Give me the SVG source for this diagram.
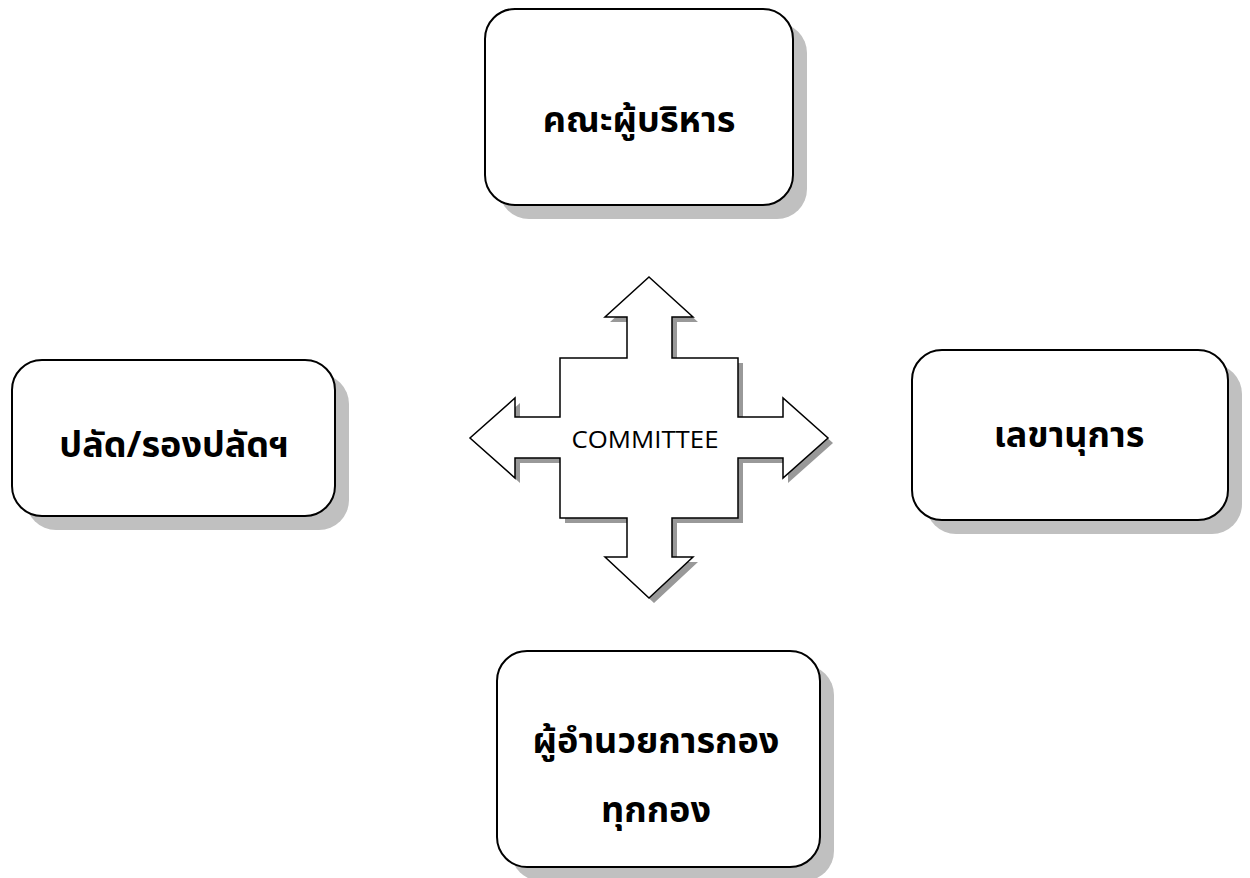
<svg xmlns="http://www.w3.org/2000/svg" width="1250" height="878" viewBox="0 0 1250 878">
<style>
.box{fill:#fff;stroke:#000;stroke-width:2}
.shadow{fill:#c0c0c0}
.lbl{font-family:"Noto Sans Thai","Leelawadee UI",Tahoma,"DejaVu Sans","Noto Sans",sans-serif;font-size:36px;font-weight:bold;fill:#000;text-anchor:middle}
.arr{fill:#fff;stroke:#000;stroke-width:1.5;stroke-linejoin:miter}
.arrsh{fill:#999}
.cm{font-family:"Open Sans","Liberation Sans",sans-serif;font-size:23px;fill:#000;text-anchor:middle}
</style>
<defs>
<path id="cross" d="M649,277 L693,317 L672,317 L672,358 L738,358 L738,417 L783,417 L783,398 L828,438 L783,478 L783,458 L738,458 L738,518 L672,518 L672,557 L693,557 L649,598 L605,557 L627,557 L627,518 L560,518 L560,458 L515,458 L515,478 L470,438 L515,398 L515,417 L560,417 L560,358 L627,358 L627,317 L605,317 Z"/>
</defs>
<g id="node-top">
<rect class="shadow" x="499" y="23" width="308" height="196" rx="30"/>
<rect class="box" x="485" y="9" width="308" height="196" rx="30"/>
<text class="lbl" x="639" y="132">คณะผู้บริหาร</text>
</g>
<g id="node-left">
<rect class="shadow" x="26" y="374" width="323" height="156" rx="30"/>
<rect class="box" x="12" y="360" width="323" height="156" rx="30"/>
<text class="lbl" x="174" y="457">ปลัด/รองปลัดฯ</text>
</g>
<g id="node-right">
<rect class="shadow" x="926" y="364" width="316" height="170" rx="30"/>
<rect class="box" x="912" y="350" width="316" height="170" rx="30"/>
<text class="lbl" x="1069" y="447">เลขานุการ</text>
</g>
<g id="node-bottom">
<rect class="shadow" x="511" y="665" width="323" height="216" rx="30"/>
<rect class="box" x="497" y="651" width="323" height="216" rx="30"/>
<text class="lbl" x="656" y="753">ผู้อำนวยการกอง</text>
<text class="lbl" x="656" y="822">ทุกกอง</text>
</g>
<g id="connectors">
<use href="#cross" class="arrsh" transform="translate(5,5)"/>
<use href="#cross" class="arr"/>
<text class="cm" x="645" y="448" textLength="147" lengthAdjust="spacingAndGlyphs">COMMITTEE</text>
</g>
</svg>
